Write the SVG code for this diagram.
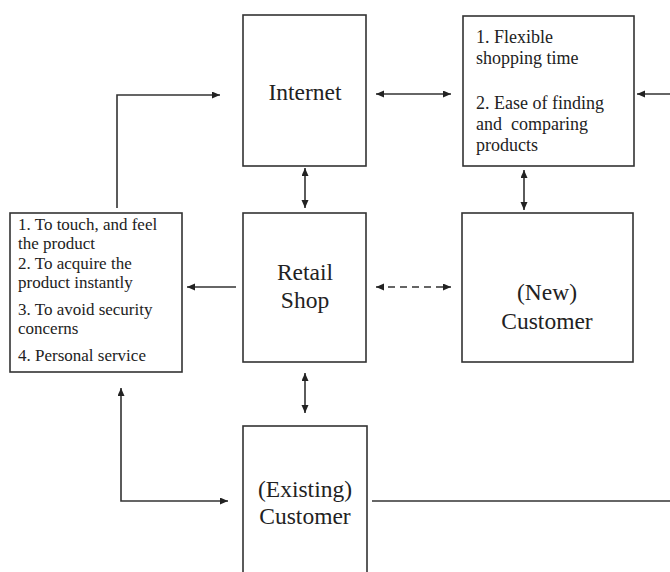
<svg xmlns="http://www.w3.org/2000/svg" width="670" height="572" viewBox="0 0 670 572">
<style>
.box{fill:#fff;stroke:#333;stroke-width:1.6}
.t{font-family:"Liberation Serif","Times New Roman",serif;fill:#222}
.big{font-size:23.5px;text-anchor:middle}
.sm{font-size:18px}
.lb{font-size:17px}
.c{fill:none;stroke:#333;stroke-width:1.6}
</style>
<defs>
<marker id="ah" markerUnits="userSpaceOnUse" markerWidth="9" markerHeight="8" refX="8" refY="3.5" orient="auto-start-reverse">
<path d="M0,0 L8,3.5 L0,7 z" fill="#222"/>
</marker>
</defs>
<g id="internet"><rect class="box" x="243" y="15" width="123" height="151"/><text class="t big" x="305" y="100">Internet</text></g>
<g id="online-benefits"><rect class="box" x="463" y="16" width="171" height="150"/>
<text class="t sm" x="476"><tspan x="476" y="43">1. Flexible</tspan><tspan x="476" y="64">shopping time</tspan><tspan x="476" y="109">2. Ease of finding</tspan><tspan x="476" y="130" style="white-space:pre">and  comparing</tspan><tspan x="476" y="151">products</tspan></text></g>
<g id="retail-shop"><rect class="box" x="243" y="213" width="123" height="149"/><text class="t big" x="305"><tspan x="305" y="280">Retail</tspan><tspan x="305" y="308">Shop</tspan></text></g>
<g id="new-customer"><rect class="box" x="462" y="213" width="171" height="149"/><text class="t big" x="547"><tspan x="547" y="300">(New)</tspan><tspan x="547" y="329">Customer</tspan></text></g>
<g id="store-benefits"><rect class="box" x="10" y="213" width="172" height="159"/>
<text class="t lb"><tspan x="18" y="229.5">1. To touch, and feel</tspan><tspan x="18" y="248.5">the product</tspan><tspan x="18" y="268.5">2. To acquire the</tspan><tspan x="18" y="287.5">product instantly</tspan><tspan x="18" y="314.5">3. To avoid security</tspan><tspan x="18" y="333.5">concerns</tspan><tspan x="18" y="361">4. Personal service</tspan></text></g>
<g id="existing-customer"><rect class="box" x="243" y="426" width="124" height="170"/><text class="t big" x="305"><tspan x="305" y="497">(Existing)</tspan><tspan x="305" y="524">Customer</tspan></text></g>
<g id="connectors">
<line class="c" x1="376" y1="94" x2="451" y2="94" marker-start="url(#ah)" marker-end="url(#ah)"/>
<line class="c" x1="670" y1="94" x2="637" y2="94" marker-end="url(#ah)"/>
<line class="c" x1="524" y1="170" x2="524" y2="210" marker-start="url(#ah)" marker-end="url(#ah)"/>
<line class="c" x1="305" y1="168" x2="305" y2="208" marker-start="url(#ah)" marker-end="url(#ah)"/>
<line class="c" x1="376" y1="287" x2="451" y2="287" stroke-dasharray="7,5" marker-start="url(#ah)" marker-end="url(#ah)"/>
<line class="c" x1="236" y1="287" x2="187" y2="287" marker-end="url(#ah)"/>
<polyline class="c" points="117,208 117,95 220,95" marker-end="url(#ah)"/>
<line class="c" x1="305" y1="373" x2="305" y2="413" marker-start="url(#ah)" marker-end="url(#ah)"/>
<polyline class="c" points="121,388 121,501 228,501" marker-start="url(#ah)" marker-end="url(#ah)"/>
<line class="c" x1="372" y1="501" x2="670" y2="501"/>
</g>
</svg>
